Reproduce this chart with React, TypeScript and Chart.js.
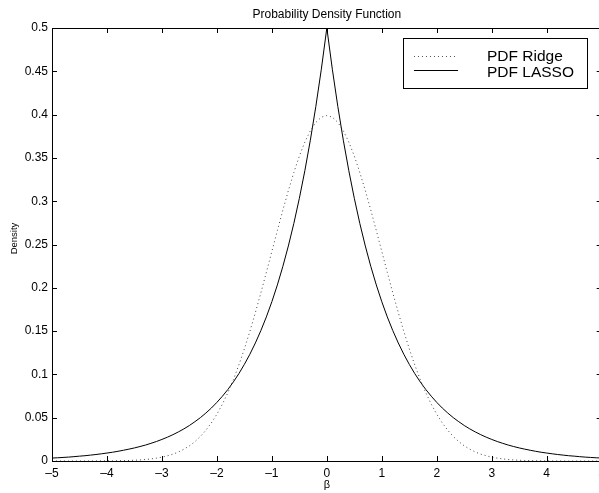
import React, { useEffect, useRef } from "react";
import { Chart, registerables } from "chart.js";

Chart.register(...registerables);

const betaValues = [
  -5.0, -4.9, -4.8, -4.7, -4.6, -4.5, -4.4, -4.3, -4.2, -4.1,
  -4.0, -3.9, -3.8, -3.7, -3.6, -3.5, -3.4, -3.3, -3.2, -3.1,
  -3.0, -2.9, -2.8, -2.7, -2.6, -2.5, -2.4, -2.3, -2.2, -2.1,
  -2.0, -1.9, -1.8, -1.7, -1.6, -1.5, -1.4, -1.3, -1.2, -1.1,
  -1.0, -0.9, -0.8, -0.7, -0.6, -0.5, -0.4, -0.3, -0.2, -0.1,
  0.0,
  0.1, 0.2, 0.3, 0.4, 0.5, 0.6, 0.7, 0.8, 0.9, 1.0,
  1.1, 1.2, 1.3, 1.4, 1.5, 1.6, 1.7, 1.8, 1.9, 2.0,
  2.1, 2.2, 2.3, 2.4, 2.5, 2.6, 2.7, 2.8, 2.9, 3.0,
  3.1, 3.2, 3.3, 3.4, 3.5, 3.6, 3.7, 3.8, 3.9, 4.0,
  4.1, 4.2, 4.3, 4.4, 4.5, 4.6, 4.7, 4.8, 4.9, 5.0,
];

const ridgeValues = [
  0.0000, 0.0000, 0.0000, 0.0000, 0.0000, 0.0000, 0.0000, 0.0000, 0.0001, 0.0001,
  0.0001, 0.0002, 0.0003, 0.0004, 0.0006, 0.0009, 0.0012, 0.0017, 0.0024, 0.0033,
  0.0044, 0.0060, 0.0079, 0.0104, 0.0136, 0.0175, 0.0224, 0.0283, 0.0355, 0.0440,
  0.0540, 0.0656, 0.0790, 0.0940, 0.1109, 0.1295, 0.1497, 0.1714, 0.1942, 0.2179,
  0.2420, 0.2661, 0.2897, 0.3123, 0.3332, 0.3521, 0.3683, 0.3814, 0.3910, 0.3970,
  0.3989,
  0.3970, 0.3910, 0.3814, 0.3683, 0.3521, 0.3332, 0.3123, 0.2897, 0.2661, 0.2420,
  0.2179, 0.1942, 0.1714, 0.1497, 0.1295, 0.1109, 0.0940, 0.0790, 0.0656, 0.0540,
  0.0440, 0.0355, 0.0283, 0.0224, 0.0175, 0.0136, 0.0104, 0.0079, 0.0060, 0.0044,
  0.0033, 0.0024, 0.0017, 0.0012, 0.0009, 0.0006, 0.0004, 0.0003, 0.0002, 0.0001,
  0.0001, 0.0001, 0.0000, 0.0000, 0.0000, 0.0000, 0.0000, 0.0000, 0.0000, 0.0000,
];

const lassoValues = [
  0.0034, 0.0037, 0.0041, 0.0045, 0.0050, 0.0056, 0.0061, 0.0068, 0.0075, 0.0083,
  0.0092, 0.0101, 0.0112, 0.0124, 0.0137, 0.0151, 0.0167, 0.0184, 0.0204, 0.0225,
  0.0249, 0.0275, 0.0304, 0.0336, 0.0371, 0.0410, 0.0454, 0.0501, 0.0554, 0.0612,
  0.0677, 0.0748, 0.0826, 0.0913, 0.1009, 0.1116, 0.1233, 0.1363, 0.1506, 0.1664,
  0.1839, 0.2033, 0.2247, 0.2483, 0.2744, 0.3033, 0.3352, 0.3704, 0.4094, 0.4524,
  0.5000,
  0.4524, 0.4094, 0.3704, 0.3352, 0.3033, 0.2744, 0.2483, 0.2247, 0.2033, 0.1839,
  0.1664, 0.1506, 0.1363, 0.1233, 0.1116, 0.1009, 0.0913, 0.0826, 0.0748, 0.0677,
  0.0612, 0.0554, 0.0501, 0.0454, 0.0410, 0.0371, 0.0336, 0.0304, 0.0275, 0.0249,
  0.0225, 0.0204, 0.0184, 0.0167, 0.0151, 0.0137, 0.0124, 0.0112, 0.0101, 0.0092,
  0.0083, 0.0075, 0.0068, 0.0061, 0.0056, 0.0050, 0.0045, 0.0041, 0.0037, 0.0034,
];

const xTicks = [-5, -4, -3, -2, -1, 0, 1, 2, 3, 4, 5];
const yTicks = [0, 0.05, 0.1, 0.15, 0.2, 0.25, 0.3, 0.35, 0.4, 0.45, 0.5];
const seriesNames = ["PDF Ridge", "PDF LASSO"];
const titleText = "Probability Density Function";
const xTitle = "β";
const yTitle = "Density";

const FONT = "'Liberation Sans', Arial, Helvetica, sans-serif";

const framePlugin = {
  id: "matlabFrame",
  afterDraw(chart: any) {
    const ctx = chart.ctx;
    const a = chart.chartArea;
    const xs = chart.scales.x;
    const ys = chart.scales.y;
    ctx.save();
    ctx.strokeStyle = "#000";
    ctx.lineWidth = 1;
    // frame
    ctx.strokeRect(Math.round(a.left) + 0.5, Math.round(a.top) + 0.5, Math.round(a.right - a.left), Math.round(a.bottom - a.top));
    // ticks (inside)
    const tl = 5;
    ctx.beginPath();
    for (const t of xTicks) {
      const px = Math.round(xs.getPixelForValue(t)) + 0.5;
      ctx.moveTo(px, a.bottom);
      ctx.lineTo(px, a.bottom - tl);
      ctx.moveTo(px, a.top);
      ctx.lineTo(px, a.top + tl);
    }
    for (const t of yTicks) {
      const py = Math.round(ys.getPixelForValue(t)) + 0.5;
      ctx.moveTo(a.left, py);
      ctx.lineTo(a.left + tl, py);
      ctx.moveTo(a.right, py);
      ctx.lineTo(a.right - tl, py);
    }
    ctx.stroke();

    // title
    ctx.fillStyle = "#000";
    ctx.font = `12px ${FONT}`;
    ctx.textAlign = "center";
    ctx.textBaseline = "alphabetic";
    ctx.fillText(titleText, (xs.getPixelForValue(0)), 18);

    // x title
    ctx.font = `11px ${FONT}`;
    ctx.textBaseline = "middle";
    ctx.fillText(xTitle, xs.getPixelForValue(0), 485);

    // y title
    ctx.save();
    ctx.translate(14.5, (a.top + a.bottom) / 2 - 6);
    ctx.rotate(-Math.PI / 2);
    ctx.font = `9.5px ${FONT}`;
    ctx.textAlign = "center";
    ctx.textBaseline = "middle";
    ctx.fillText(yTitle, 0, 0);
    ctx.restore();

    // legend
    const lx = 403, ly = 38, lw = 184, lh = 50;
    ctx.fillStyle = "#fff";
    ctx.fillRect(lx, ly, lw, lh);
    ctx.strokeStyle = "#000";
    ctx.strokeRect(lx + 0.5, ly + 0.5, lw, lh);

    ctx.beginPath();
    ctx.setLineDash([1, 3]);
    ctx.strokeStyle = "#555";
    ctx.moveTo(414, 56.5);
    ctx.lineTo(455, 56.5);
    ctx.stroke();
    ctx.setLineDash([]);
    ctx.beginPath();
    ctx.strokeStyle = "#000";
    ctx.moveTo(414, 70.5);
    ctx.lineTo(458, 70.5);
    ctx.stroke();

    ctx.fillStyle = "#000";
    ctx.font = `15.5px ${FONT}`;
    ctx.textAlign = "left";
    ctx.textBaseline = "alphabetic";
    ctx.fillText(seriesNames[0], 487, 61);
    ctx.fillText(seriesNames[1], 487, 77);
    ctx.restore();
  },
};

function fmtX(v: number) {
  return v < 0 ? "–" + Math.abs(v) : String(v);
}
function fmtY(v: number) {
  return String(Math.round(v * 100) / 100);
}

export default function App() {
  const ref = useRef<HTMLCanvasElement | null>(null);
  useEffect(() => {
    if (!ref.current) return;
    const ridge = betaValues.map((b, i) => ({ x: b, y: ridgeValues[i] }));
    const lasso = betaValues.map((b, i) => ({ x: b, y: lassoValues[i] }));
    const chart = new Chart(ref.current, {
      type: "line",
      data: {
        datasets: [
          {
            label: seriesNames[0],
            data: ridge,
            borderColor: "#444",
            borderWidth: 1,
            borderDash: [1, 3],
            pointRadius: 0,
            tension: 0,
            fill: false,
          },
          {
            label: seriesNames[1],
            data: lasso,
            borderColor: "#000",
            borderWidth: 1,
            pointRadius: 0,
            tension: 0,
            fill: false,
          },
        ],
      },
      options: {
        animation: false,
        responsive: false,
        devicePixelRatio: 1,
        layout: { padding: { top: 28, right: 8, left: 0, bottom: 0 } },
        plugins: {
          legend: { display: false },
          title: { display: false },
          tooltip: { enabled: false },
        },
        scales: {
          x: {
            type: "linear",
            min: -5,
            max: 5,
            afterBuildTicks: (s: any) => {
              s.ticks = xTicks.map((v) => ({ value: v }));
            },
            afterFit: (s: any) => {
              s.height = 32;
            },
            grid: { display: false, drawTicks: false },
            border: { display: false },
            ticks: {
              padding: 5,
              maxRotation: 0,
              autoSkip: false,
              color: "#000",
              font: { family: FONT, size: 12 },
              callback: (v: any) => fmtX(Number(v)),
            },
          },
          y: {
            type: "linear",
            min: 0,
            max: 0.5,
            afterBuildTicks: (s: any) => {
              s.ticks = yTicks.map((v) => ({ value: v }));
            },
            afterFit: (s: any) => {
              s.width = 52;
            },
            grid: { display: false, drawTicks: false },
            border: { display: false },
            ticks: {
              padding: 4,
              autoSkip: false,
              color: "#000",
              font: { family: FONT, size: 12 },
              callback: (v: any) => fmtY(Number(v)),
            },
          },
        },
      },
      plugins: [framePlugin],
    } as any);
    return () => chart.destroy();
  }, []);
  return (
    <div style={{ position: "fixed", left: 0, top: 0, width: 599, height: 493, overflow: "hidden", background: "#fff" }}>
      <canvas ref={ref} width={610} height={493} style={{ width: 610, height: 493, display: "block" }} />
    </div>
  );
}
